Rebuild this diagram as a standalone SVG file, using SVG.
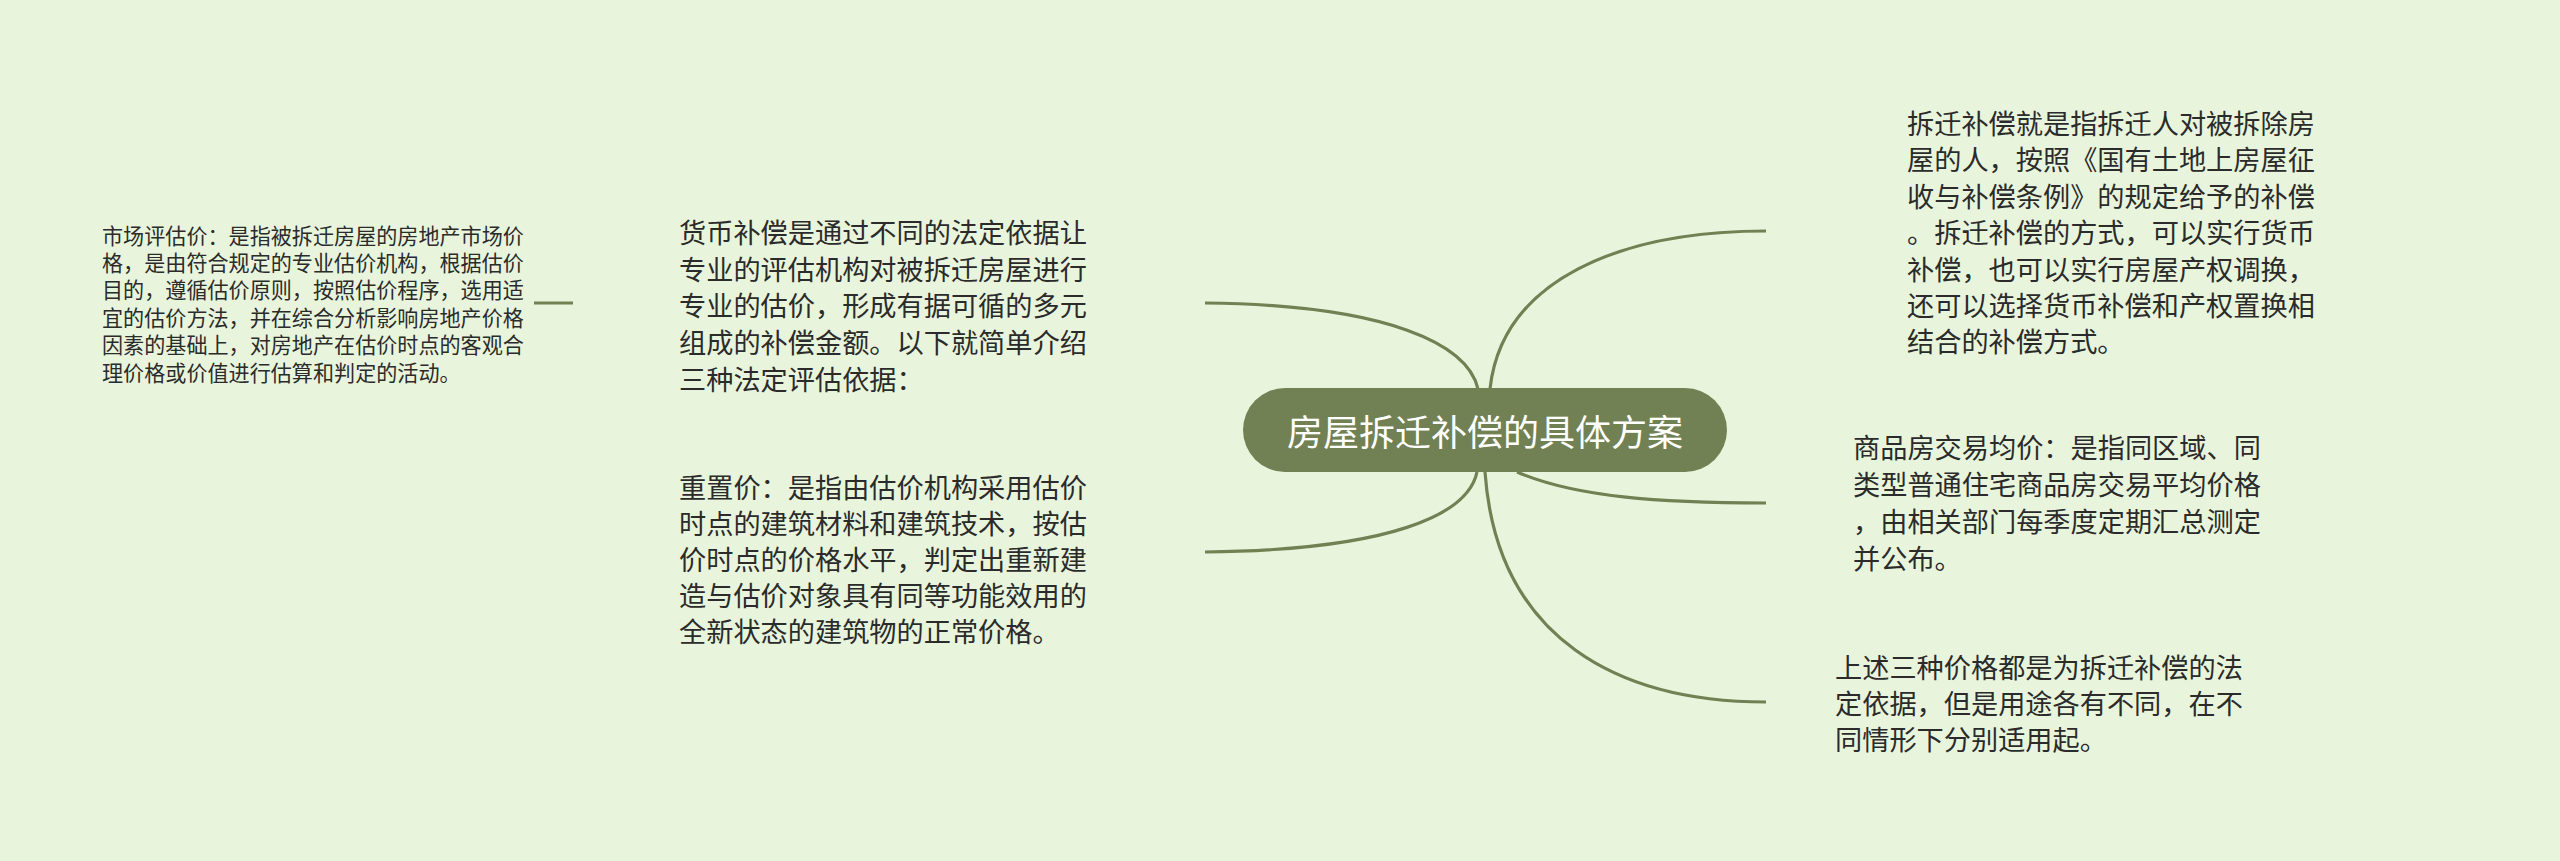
<svg xmlns="http://www.w3.org/2000/svg" width="2560" height="861" viewBox="0 0 2560 861">
<style>
.bg{fill:#e8f5dc}
.edge{fill:none;stroke:#718153;stroke-width:3.2;stroke-linecap:butt}
.t{font-family:"Noto Sans CJK SC","Noto Sans",sans-serif;fill:#2b2b2b;dominant-baseline:central}
.b{font-size:27.2px}
.s{font-size:21.1px}
.root{fill:#718153}
.rt{font-family:"Noto Sans CJK SC","Noto Sans",sans-serif;fill:#ffffff;font-size:36px;dominant-baseline:central;text-anchor:middle}
</style>
<rect class="bg" x="0" y="0" width="2560" height="861"/>
<g id="connectors">
<path class="edge" d="M1205,303 C1390,305 1468,345 1478,389"/>
<path class="edge" d="M1205,552 C1390,550 1468,515 1477,472"/>
<path class="edge" d="M1490,389 C1502,280 1620,231 1766,231"/>
<path class="edge" d="M1517,472 C1575,497 1660,503 1766,503"/>
<path class="edge" d="M1485,472 C1497,640 1620,702 1766,702"/>
<path class="edge" d="M534,303 L573,303"/>
</g>
<g id="root">
<rect class="root" x="1243" y="388" width="484" height="84" rx="42" ry="42"/>
<text class="rt" x="1485" y="430">房屋拆迁补偿的具体方案</text>
</g>
<g id="node-huobi">
<text class="t b" x="679" y="231">货币补偿是通过不同的法定依据让</text>
<text class="t b" x="679" y="268">专业的评估机构对被拆迁房屋进行</text>
<text class="t b" x="679" y="304">专业的估价，形成有据可循的多元</text>
<text class="t b" x="679" y="341">组成的补偿金额。以下就简单介绍</text>
<text class="t b" x="679" y="378">三种法定评估依据：</text>
</g>
<g id="node-shichang">
<text class="t s" x="102" y="235">市场评估价：是指被拆迁房屋的房地产市场价</text>
<text class="t s" x="102" y="262">格，是由符合规定的专业估价机构，根据估价</text>
<text class="t s" x="102" y="289">目的，遵循估价原则，按照估价程序，选用适</text>
<text class="t s" x="102" y="317">宜的估价方法，并在综合分析影响房地产价格</text>
<text class="t s" x="102" y="344">因素的基础上，对房地产在估价时点的客观合</text>
<text class="t s" x="102" y="372">理价格或价值进行估算和判定的活动。</text>
</g>
<g id="node-chongzhi">
<text class="t b" x="679" y="486">重置价：是指由估价机构采用估价</text>
<text class="t b" x="679" y="522">时点的建筑材料和建筑技术，按估</text>
<text class="t b" x="679" y="558">价时点的价格水平，判定出重新建</text>
<text class="t b" x="679" y="594">造与估价对象具有同等功能效用的</text>
<text class="t b" x="679" y="630">全新状态的建筑物的正常价格。</text>
</g>
<g id="node-dingyi">
<text class="t b" x="1907" y="122">拆迁补偿就是指拆迁人对被拆除房</text>
<text class="t b" x="1907" y="158">屋的人，按照《国有土地上房屋征</text>
<text class="t b" x="1907" y="195">收与补偿条例》的规定给予的补偿</text>
<text class="t b" x="1907" y="231">。拆迁补偿的方式，可以实行货币</text>
<text class="t b" x="1907" y="268">补偿，也可以实行房屋产权调换，</text>
<text class="t b" x="1907" y="304">还可以选择货币补偿和产权置换相</text>
<text class="t b" x="1907" y="340">结合的补偿方式。</text>
</g>
<g id="node-shangpin">
<text class="t b" x="1853" y="446">商品房交易均价：是指同区域、同</text>
<text class="t b" x="1853" y="483">类型普通住宅商品房交易平均价格</text>
<text class="t b" x="1853" y="520">，由相关部门每季度定期汇总测定</text>
<text class="t b" x="1853" y="557">并公布。</text>
</g>
<g id="node-zongjie">
<text class="t b" x="1835" y="666">上述三种价格都是为拆迁补偿的法</text>
<text class="t b" x="1835" y="702">定依据，但是用途各有不同，在不</text>
<text class="t b" x="1835" y="738">同情形下分别适用起。</text>
</g>
</svg>
